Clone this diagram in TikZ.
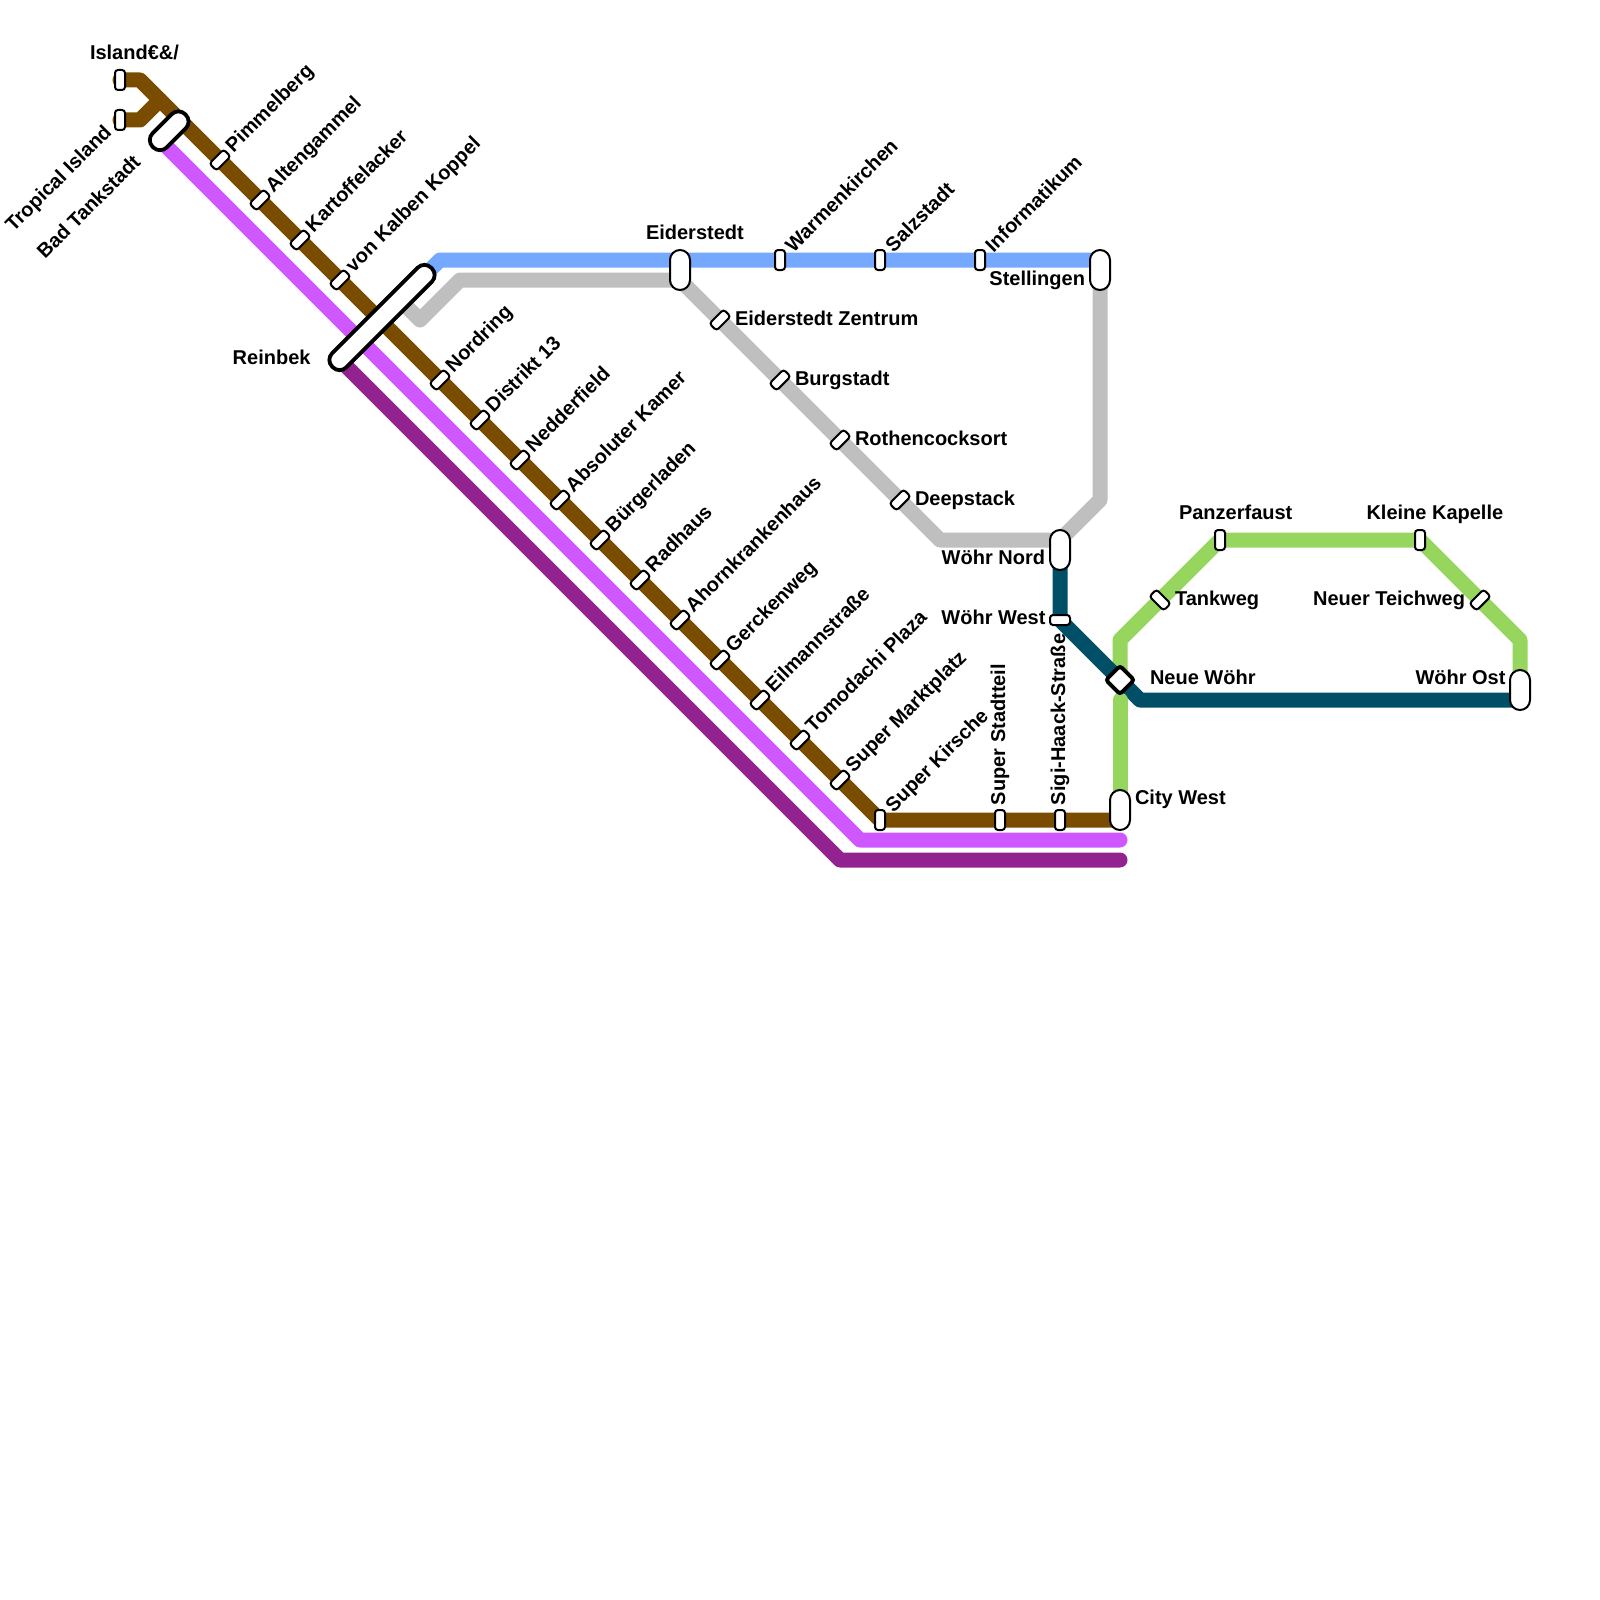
\documentclass[tikz,border=0pt]{standalone}
\usepackage{fontspec}
\setmainfont{Liberation Sans}
\definecolor{cbrown}{HTML}{7A4C00}
\definecolor{clilac}{HTML}{CF57FF}
\definecolor{cplum}{HTML}{92228F}
\definecolor{cblue}{HTML}{75A8FF}
\definecolor{cgrey}{HTML}{BFBFBF}
\definecolor{cteal}{HTML}{004F66}
\definecolor{cgreen}{HTML}{96D65F}
\tikzset{
  route/.style={line width=15pt,line join=round,line cap=round},
  stopv/.style={draw=black,fill=white,line width=2pt,rectangle,rounded corners=3pt,minimum width=10pt,minimum height=20pt,inner sep=0pt},
  stoph/.style={stopv,minimum width=20pt,minimum height=10pt},
  stopa/.style={stoph,rotate=45},
  stopb/.style={stoph,rotate=-45},
  capsule/.style={draw=black,fill=white,line width=2pt,rectangle,rounded corners=10pt,minimum width=20pt,minimum height=40pt,inner sep=0pt},
  biglink/.style={draw=black,fill=white,line width=3.8pt,rectangle,rounded corners=9.5pt,minimum height=20pt,inner sep=0pt,rotate=45},
  hub/.style={draw=black,fill=white,line width=4pt,rectangle,rounded corners=3pt,minimum width=20pt,minimum height=20pt,inner sep=0pt,rotate=45},
  lbl/.style={inner sep=0pt,outer sep=0pt,text height=14pt,text depth=4pt,font=\bfseries\fontsize{20}{24}\selectfont,text=black},
  lw/.style={lbl,anchor=west},
  le/.style={lbl,anchor=east},
  lu/.style={lbl,anchor=west,rotate=45},
  ld/.style={lbl,anchor=east,rotate=45},
  lv/.style={lbl,anchor=west,rotate=90},
}
\begin{document}
\begin{tikzpicture}[x=1pt,y=-1pt]
\useasboundingbox (0,0) rectangle (1600,1600);
% route points
\coordinate (islandP) at (120,80);
\coordinate (tropicalP) at (120,120);
\coordinate (bA) at (140,80);
\coordinate (bB) at (140,120);
\coordinate (bC) at (160,100);
\coordinate (bD) at (880,820);
\coordinate (cityB) at (1120,820);
\coordinate (tankP) at (160,140);
\coordinate (lA) at (860,840);
\coordinate (lB) at (1120,840);
\coordinate (reinP) at (340,360);
\coordinate (pA) at (840,860);
\coordinate (pB) at (1120,860);
\coordinate (blueS) at (420,280);
\coordinate (blueC) at (440,260);
\coordinate (blueE) at (1100,260);
\coordinate (gS) at (405,305);
\coordinate (gA) at (420,320);
\coordinate (gB) at (460,280);
\coordinate (gC) at (680,280);
\coordinate (gD) at (940,540);
\coordinate (gE) at (1060,540);
\coordinate (gF) at (1100,500);
\coordinate (gG) at (1100,280);
\coordinate (tS) at (1060,560);
\coordinate (tA) at (1060,620);
\coordinate (tB) at (1140,700);
\coordinate (tC) at (1520,700);
\coordinate (vA) at (1120,800);
\coordinate (vH) at (1120,700);
\coordinate (vG) at (1120,680);
\coordinate (vB) at (1120,640);
\coordinate (vC) at (1220,540);
\coordinate (vD) at (1420,540);
\coordinate (vE) at (1520,640);
\coordinate (vF) at (1520,680);
% routes
\draw[route,cplum] (reinP) -- (pA) -- (pB);
\draw[route,clilac] (tankP) -- (lA) -- (lB);
\draw[route,cbrown] (islandP) -- (bA) -- (bD) -- (cityB);
\draw[route,cbrown] (tropicalP) -- (bB) -- (bC);
\draw[route,cblue] (blueS) -- (blueC) -- (blueE);
\draw[route,cgrey] (gS) -- (gA) -- (gB) -- (gC) -- (gD) -- (gE) -- (gF) -- (gG);
\draw[route,cgreen] (vG) -- (vB) -- (vC) -- (vD) -- (vE) -- (vF);
\draw[route,cteal] (tS) -- (tA) -- (tB) -- (tC);
\draw[route,cgreen] (vH) -- (vA);
% stations on the long diagonal
\foreach \n/\x/\y/\t in {
  pim/220/160/Pimmelberg, alt/260/200/Altengammel, kar/300/240/Kartoffelacker,
  kal/340/280/von Kalben Koppel, nor/440/380/Nordring, dis/480/420/Distrikt 13,
  ned/520/460/Nedderfield, abs/560/500/Absoluter Kamer, bur/600/540/Bürgerladen,
  rad/640/580/Radhaus, aho/680/620/Ahornkrankenhaus, ger/720/660/Gerckenweg,
  eil/760/700/Eilmannstraße, tom/800/740/Tomodachi Plaza, sup/840/780/Super Marktplatz}{
  \node[stopa] (s\n) at (\x,\y) {};
  \node[lu] (l\n) at (\x+10,\y-10.5) {\t};
}
% stations on the upper line
\foreach \n/\x/\t in {war/780/Warmenkirchen, sal/880/Salzstadt, inf/980/Informatikum}{
  \node[stopv] (s\n) at (\x,260) {};
  \node[lu] (l\n) at (\x+10,249.5) {\t};
}
% stations on the grey diagonal
\foreach \n/\x/\y/\t in {eza/720/320/Eiderstedt Zentrum, bst/780/380/Burgstadt, rot/840/440/Rothencocksort, dee/900/500/Deepstack}{
  \node[stopa] (s\n) at (\x,\y) {};
  \node[lw] (l\n) at (\x+15,\y) {\t};
}
% other stations
\node[stopv] (island) at (120,80) {};
\node[stopv] (tropical) at (120,120) {};
\node[stopv] (kirsche) at (880,820) {};
\node[stopv] (stadtteil) at (1000,820) {};
\node[stopv] (sigi) at (1060,820) {};
\node[stoph] (wwest) at (1060,620) {};
\node[stopv] (panzer) at (1220,540) {};
\node[stopv] (kleine) at (1420,540) {};
\node[stopb] (tank) at (1160,600) {};
\node[stopa] (teich) at (1480,600) {};
\node[capsule] (eider) at (680,270) {};
\node[capsule] (stell) at (1100,270) {};
\node[capsule] (wnord) at (1060,550) {};
\node[capsule] (cityw) at (1120,810) {};
\node[capsule] (wost) at (1520,690) {};
\node[biglink,minimum width=46pt] (badt) at (169.2,130.8) {};
\node[biglink,minimum width=140pt] (rein) at (382,317.5) {};
\node[hub] (neue) at (1120,680) {};
% labels
\node[lw] (lisland) at (90,54.5) {Island€\&/};
\node[ld] (ltropical) at (109,130) {Tropical Island};
\node[ld] (lbadt) at (138,160) {Bad Tankstadt};
\node[le] (lrein) at (310.5,359) {Reinbek};
\node[lw] (leider) at (646,234) {Eiderstedt};
\node[le] (lstell) at (1085,280) {Stellingen};
\node[le] (lwnord) at (1045,559) {Wöhr Nord};
\node[le] (lwwest) at (1045.5,619) {Wöhr West};
\node[lu] (lkirsche) at (890,809.5) {Super Kirsche};
\node[lv] (lstadtteil) at (1000,805) {Super Stadtteil};
\node[lv] (lsigi) at (1060,805) {Sigi-Haack-Straße};
\node[lw] (lneue) at (1150,679) {Neue Wöhr};
\node[lw] (lcityw) at (1135,799) {City West};
\node[le] (lwost) at (1505.5,679) {Wöhr Ost};
\node[lw] (lpanzer) at (1179,514.5) {Panzerfaust};
\node[lw] (lkleine) at (1366.5,514.5) {Kleine Kapelle};
\node[lw] (ltank) at (1175,600) {Tankweg};
\node[le] (lteich) at (1465,600) {Neuer Teichweg};
\end{tikzpicture}
\end{document}
